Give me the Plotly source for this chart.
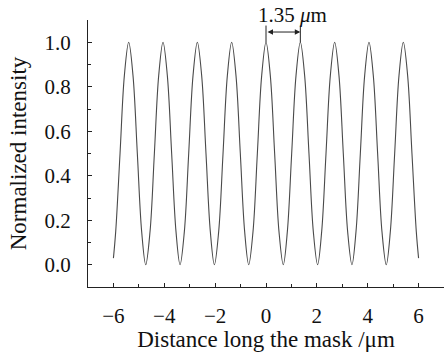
import plotly.graph_objects as go

# Distance along the mask (um) and normalized intensity
distance_um = [
    -6.00, -5.91, -5.74, -5.57,
    -5.40, -5.23, -5.06, -4.89, -4.73, -4.56, -4.39, -4.22,
    -4.05, -3.88, -3.71, -3.54, -3.38, -3.21, -3.04, -2.87,
    -2.70, -2.53, -2.36, -2.19, -2.03, -1.86, -1.69, -1.52,
    -1.35, -1.18, -1.01, -0.84, -0.68, -0.51, -0.34, -0.17,
    0.00, 0.17, 0.34, 0.51, 0.68, 0.84, 1.01, 1.18,
    1.35, 1.52, 1.69, 1.86, 2.03, 2.19, 2.36, 2.53,
    2.70, 2.87, 3.04, 3.21, 3.38, 3.54, 3.71, 3.88,
    4.05, 4.22, 4.39, 4.56, 4.73, 4.89, 5.06, 5.23,
    5.40, 5.57, 5.74, 5.91, 6.00,
]
intensity = [
    0.03, 0.15, 0.50, 0.85,
    1.00, 0.85, 0.50, 0.15, 0.00, 0.15, 0.50, 0.85,
    1.00, 0.85, 0.50, 0.15, 0.00, 0.15, 0.50, 0.85,
    1.00, 0.85, 0.50, 0.15, 0.00, 0.15, 0.50, 0.85,
    1.00, 0.85, 0.50, 0.15, 0.00, 0.15, 0.50, 0.85,
    1.00, 0.85, 0.50, 0.15, 0.00, 0.15, 0.50, 0.85,
    1.00, 0.85, 0.50, 0.15, 0.00, 0.15, 0.50, 0.85,
    1.00, 0.85, 0.50, 0.15, 0.00, 0.15, 0.50, 0.85,
    1.00, 0.85, 0.50, 0.15, 0.00, 0.15, 0.50, 0.85,
    1.00, 0.85, 0.50, 0.15, 0.03,
]

x_ticks = [-6, -4, -2, 0, 2, 4, 6]
x_tick_labels = ["\u22126", "\u22124", "\u22122", "0", "2", "4", "6"]
y_ticks = [0.0, 0.2, 0.4, 0.6, 0.8, 1.0]
y_tick_labels = ["0.0", "0.2", "0.4", "0.6", "0.8", "1.0"]

period_start = 0.0
period_end = 1.35
period_label = "1.35 <i>\u03bc</i>m"

FONT = "Liberation Serif, Times New Roman, serif"
TXT = "#111"

fig = go.Figure()
fig.add_trace(go.Scatter(
    x=distance_um, y=intensity, mode="lines",
    line=dict(color="#4a4a4a", width=1.1, shape="spline", smoothing=1.0),
    hoverinfo="skip", showlegend=False,
))

# period marker: vertical guides and a double arrow
for xv in (period_start, period_end):
    fig.add_shape(type="line", xref="x", yref="y", x0=xv, x1=xv, y0=1.0, y1=1.075,
                  line=dict(color="#222", width=1))
fig.add_annotation(x=period_end, y=1.046, ax=period_start, ay=1.046,
                   xref="x", yref="y", axref="x", ayref="y",
                   text="", showarrow=True, arrowhead=2, arrowside="end+start",
                   arrowsize=1.1, arrowwidth=1, arrowcolor="#222")
fig.add_annotation(x=(period_start + period_end) / 2 + 0.35, y=1.018, xref="x", yref="paper",
                   text=period_label, showarrow=False, yanchor="middle",
                   font=dict(family=FONT, size=21, color=TXT))

fig.update_layout(
    width=444, height=352,
    margin=dict(l=88, r=0, t=20, b=65),
    paper_bgcolor="white", plot_bgcolor="white",
    font=dict(family=FONT, size=21, color=TXT),
    xaxis=dict(
        range=[-7, 7], tickvals=x_ticks, ticktext=x_tick_labels,
        ticks="inside", ticklen=4, tickwidth=1, tickcolor="#222",
        minor=dict(dtick=1, tick0=0, ticks="inside", ticklen=3, tickcolor="#222"),
        showline=True, linecolor="#222", linewidth=1, showgrid=False, zeroline=False,
        ticklabelstandoff=10,
        title=dict(text="Distance long the mask /\u03bcm", font=dict(size=23), standoff=9),
    ),
    yaxis=dict(
        range=[-0.1, 1.1], tickvals=y_ticks, ticktext=y_tick_labels,
        ticks="inside", ticklen=4, tickwidth=1, tickcolor="#222",
        minor=dict(dtick=0.1, tick0=0, ticks="inside", ticklen=3, tickcolor="#222"),
        showline=True, linecolor="#222", linewidth=1, showgrid=False, zeroline=False,
        ticklabelstandoff=12,
        title=dict(text="Normalized intensity", font=dict(size=23), standoff=11),
    ),
)

fig.write_html("out.html")
